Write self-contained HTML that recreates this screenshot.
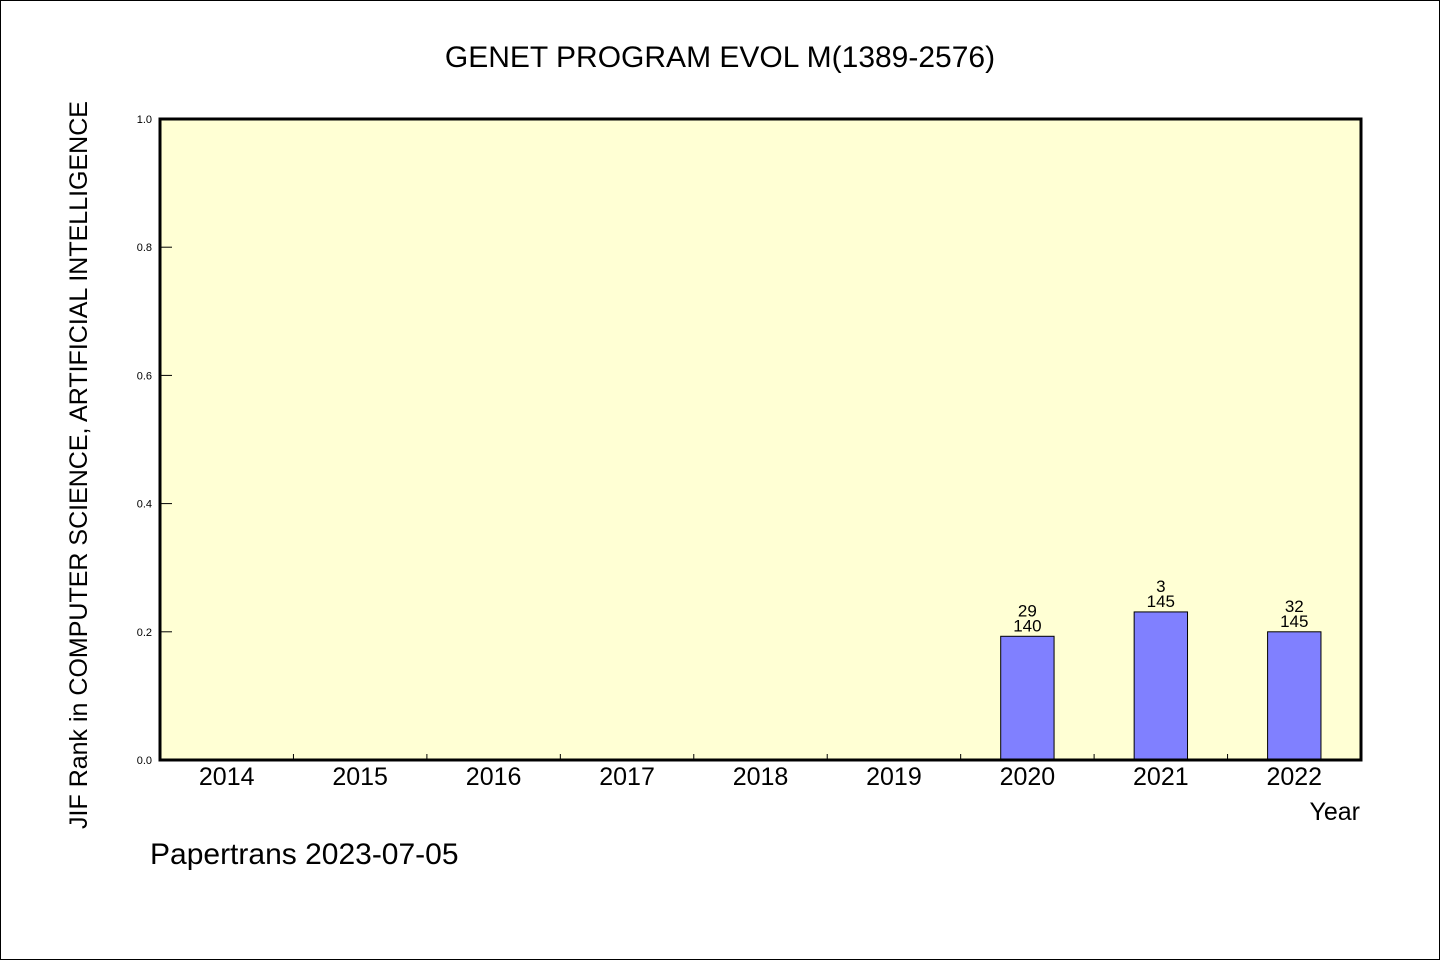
<!DOCTYPE html>
<html><head><meta charset="utf-8"><style>
html,body{margin:0;padding:0;background:#fff;}
svg{display:block;font-family:"WenQuanYi Zen Hei","Liberation Sans",sans-serif;}
</style></head><body>
<svg id="chart" width="1440" height="960" viewBox="0 0 1440 960">
<rect x="0.5" y="0.5" width="1439" height="959" fill="#fff" stroke="#000"/>
<text x="720" y="67" font-size="30" text-anchor="middle">GENET PROGRAM EVOL M(1389-2576)</text>
<rect x="160" y="119" width="1201" height="641" fill="#ffffd4"/>
<g id="marks"></g>
<rect x="160" y="119" width="1201" height="641" fill="none" stroke="#000" stroke-width="3"/>
<text transform="translate(87,465) rotate(-90)" font-size="25" text-anchor="middle">JIF Rank in COMPUTER SCIENCE, ARTIFICIAL INTELLIGENCE</text>
<text x="1360" y="820" font-size="25" text-anchor="end">Year</text>
<text x="150" y="864" font-size="30">Papertrans 2023-07-05</text>
</svg>
<script>
const categories = ["2014","2015","2016","2017","2018","2019","2020","2021","2022"];
const values = [null,null,null,null,null,null,0.193,0.231,0.2];
const rankLabels = [null,null,null,null,null,null,"29","3","32"];
const totalLabels = [null,null,null,null,null,null,"140","145","145"];
const yTicks = [0,0.2,0.4,0.6,0.8,1.0];
const yTickLabels = ["0.0","0.2","0.4","0.6","0.8","1.0"];

const L=160,R=1361,T=119,B=760;
const bw=(R-L)/categories.length;
const xs=i=>L+bw*(i+0.5);
const ys=v=>B-(v)*(B-T);
const g=document.getElementById('marks');
const NS='http://www.w3.org/2000/svg';
function mk(tag,attrs){const e=document.createElementNS(NS,tag);for(const k in attrs)e.setAttribute(k,attrs[k]);g.appendChild(e);return e;}

yTicks.forEach((v,i)=>{
  const y=ys(v);
  const t=mk('line',{x1:L,x2:L+12,y1:y,y2:y,stroke:'#000','stroke-width':1});
  
  
  const lb=mk('text',{x:L-8,y:y+4,'font-size':11,'text-anchor':'end'});
  lb.textContent=yTickLabels[i];
  
  
});
categories.forEach((c,i)=>{
  if(i>0){
    const x=L+bw*i;
    const t=mk('line',{x1:x,x2:x,y1:B,y2:B-6,stroke:'#000','stroke-width':1});
    
    
  }
  const lb=mk('text',{x:xs(i),y:785,'font-size':25,'text-anchor':'middle'});
  lb.textContent=c;
  
  
  if(values[i]!=null){
    const w=bw*0.4, y=ys(values[i]);
    const b=mk('rect',{x:xs(i)-w/2,y:y,width:w,height:B-y,fill:'#8080ff',stroke:'#000','stroke-width':1});
    
    
    const t1=mk('text',{x:xs(i),y:y-20,'font-size':17,'text-anchor':'middle'});
    t1.textContent=rankLabels[i];
    
    
    const t2=mk('text',{x:xs(i),y:y-5,'font-size':17,'text-anchor':'middle'});
    t2.textContent=totalLabels[i];
    
    
  }
});
</script>
</body></html>
